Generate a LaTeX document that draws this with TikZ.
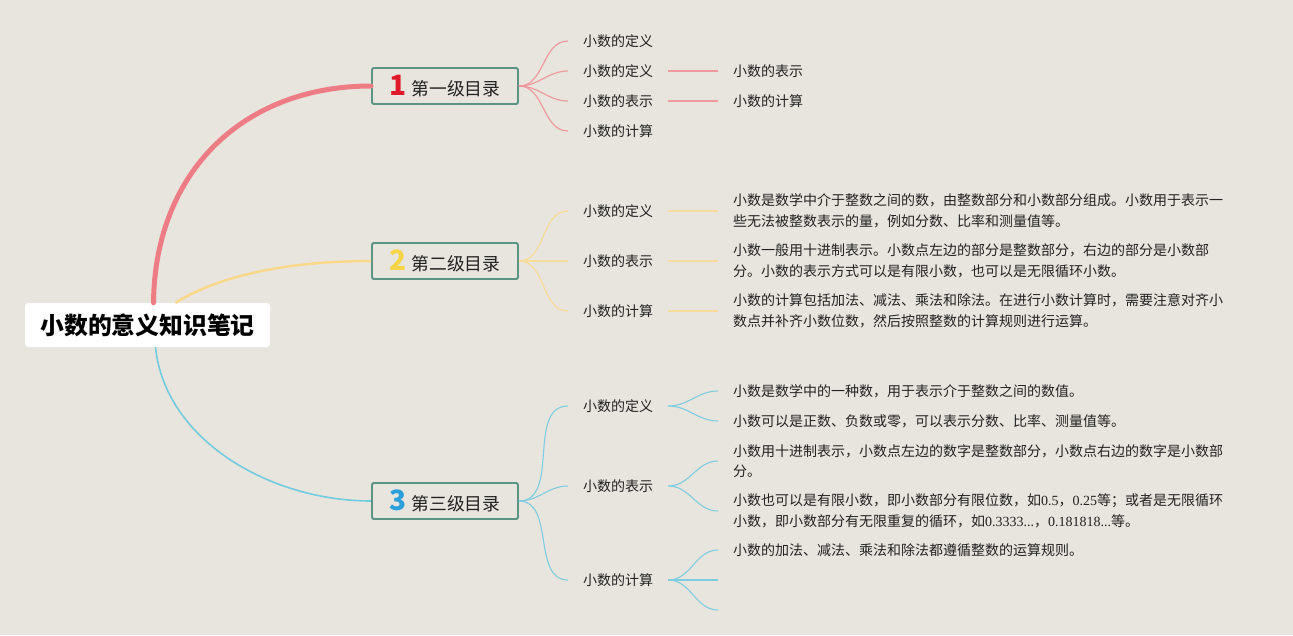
\documentclass[tikz,border=0pt]{standalone}
\usepackage{fontspec}
\setmainfont{Noto Sans CJK SC}
\newfontfamily\numfont{Liberation Serif}
\usetikzlibrary{calc}
\definecolor{bgc}{HTML}{E8E5DE}
\definecolor{pinkmain}{HTML}{EE7C84}
\definecolor{pinkfine}{HTML}{EE9AA0}
\definecolor{yellowmain}{HTML}{F9D88A}
\definecolor{yellowfine}{HTML}{F7DB98}
\definecolor{bluemain}{HTML}{72CBE0}
\definecolor{bluefine}{HTML}{7ECDE0}
\definecolor{tealborder}{HTML}{5B9483}
\definecolor{numred}{HTML}{E0192B}
\definecolor{numyellow}{HTML}{F5D547}
\definecolor{numblue}{HTML}{2B9FDA}
\definecolor{txt}{HTML}{222222}
\newcommand\bignumfont{\fontsize{28}{28}\selectfont\bfseries}
\tikzset{
  rootbox/.style={fill=white, rounded corners=3pt, minimum width=245pt, minimum height=44pt,
    inner sep=0pt, font=\fontsize{23.8}{26}\selectfont\bfseries, text=black},
  lvlbox/.style={draw=tealborder, line width=1.8pt, fill=bgc, rounded corners=1.5pt,
    minimum width=146pt, minimum height=36pt, inner sep=0pt,
    font=\fontsize{17.8}{20}\selectfont, text=txt},
  l2/.style={anchor=west, inner xsep=15pt, inner ysep=2pt, font=\fontsize{14}{17}\selectfont, text=txt},
  leaf/.style={anchor=west, inner xsep=15pt, inner ysep=2pt, align=left,
    font=\fontsize{14}{20.5}\selectfont, text=txt},
  pinkline/.style={draw=pinkfine, line width=1.2pt},
  yellowline/.style={draw=yellowfine, line width=1.2pt},
  blueline/.style={draw=bluefine, line width=1.1pt},
}
\begin{document}
\begin{tikzpicture}[x=1pt,y=-1pt]
\fill[bgc] (0,0) rectangle (1293,635);
\useasboundingbox (0,0) rectangle (1293,635);

% root
\node[rootbox] (root) at (147.5,325) {小数的意义知识笔记};

% level-1 boxes
\node[lvlbox] (n1) at (445,86) {{\color{numred}\bignumfont 1}\hspace{5pt}第一级目录};
\node[lvlbox] (n2) at (445,261) {{\color{numyellow}\bignumfont 2}\hspace{5pt}第二级目录};
\node[lvlbox] (n3) at (445,501) {{\color{numblue}\bignumfont 3}\hspace{5pt}第三级目录};

% main branches
\draw[pinkmain, line width=5pt, line cap=round]
  ([xshift=6pt]root.north) .. controls (155,170) and (245,86) .. (n1.west);
\draw[yellowmain, line width=2.5pt]
  ([xshift=28pt]root.north) .. controls (220,275) and (290,261) .. (n2.west);
\draw[bluemain, line width=1.6pt]
  ([xshift=8pt]root.south) .. controls (165,440) and (270,501) .. (n3.west);

% ---- branch 1
\node[l2] (a1) at (568,41) {小数的定义};
\node[l2] (a2) at (568,71) {小数的定义};
\node[l2] (a3) at (568,101) {小数的表示};
\node[l2] (a4) at (568,131) {小数的计算};
\node[leaf] (a2x) at (718,71) {小数的表示};
\node[leaf] (a3x) at (718,101) {小数的计算};
\foreach \c in {a1,a2,a3,a4}
  \draw[pinkline] (n1.east) to[out=0,in=180] (\c.west);
\draw[pinkline] (a2.east) -- (a2x.west);
\draw[pinkline] (a3.east) -- (a3x.west);

% ---- branch 2
\node[l2] (b1) at (568,211) {小数的定义};
\node[l2] (b2) at (568,261) {小数的表示};
\node[l2] (b3) at (568,311) {小数的计算};
\node[leaf] (b1x) at (718,211) {小数是数学中介于整数之间的数，由整数部分和小数部分组成。小数用于表示一\\些无法被整数表示的量，例如分数、比率和测量值等。};
\node[leaf] (b2x) at (718,261) {小数一般用十进制表示。小数点左边的部分是整数部分，右边的部分是小数部\\分。小数的表示方式可以是有限小数，也可以是无限循环小数。};
\node[leaf] (b3x) at (718,311) {小数的计算包括加法、减法、乘法和除法。在进行小数计算时，需要注意对齐小\\数点并补齐小数位数，然后按照整数的计算规则进行运算。};
\foreach \c in {b1,b2,b3}
  \draw[yellowline] (n2.east) to[out=0,in=180] (\c.west);
\draw[yellowline] (b1.east) -- (b1x.west);
\draw[yellowline] (b2.east) -- (b2x.west);
\draw[yellowline] (b3.east) -- (b3x.west);

% ---- branch 3
\node[l2] (c1) at (568,406) {小数的定义};
\node[l2] (c2) at (568,486) {小数的表示};
\node[l2] (c3) at (568,580) {小数的计算};
\node[leaf] (c1a) at (718,391) {小数是数学中的一种数，用于表示介于整数之间的数值。};
\node[leaf] (c1b) at (718,421) {小数可以是正数、负数或零，可以表示分数、比率、测量值等。};
\node[leaf] (c2a) at (718,461) {小数用十进制表示，小数点左边的数字是整数部分，小数点右边的数字是小数部\\分。};
\node[leaf] (c2b) at (718,511) {小数也可以是有限小数，即小数部分有限位数，如{\numfont 0.5}，{\numfont 0.25}等；或者是无限循环\\小数，即小数部分有无限重复的循环，如{\numfont 0.3333...}，{\numfont 0.181818...}等。};
\node[leaf] (c3a) at (718,550) {小数的加法、减法、乘法和除法都遵循整数的运算规则。};
\coordinate (c3b) at (718,580);
\coordinate (c3c) at (718,610);
\foreach \c in {c1,c2,c3}
  \draw[blueline] (n3.east) to[out=0,in=180] (\c.west);
\foreach \c in {c1a,c1b}
  \draw[blueline] (c1.east) to[out=0,in=180] (\c.west);
\foreach \c in {c2a,c2b}
  \draw[blueline] (c2.east) to[out=0,in=180] (\c.west);
\draw[blueline] (c3.east) to[out=0,in=180] (c3a.west);
\draw[blueline] (c3.east) to[out=0,in=180] (c3b);
\draw[blueline] (c3.east) to[out=0,in=180] (c3c);
\end{tikzpicture}
\end{document}
